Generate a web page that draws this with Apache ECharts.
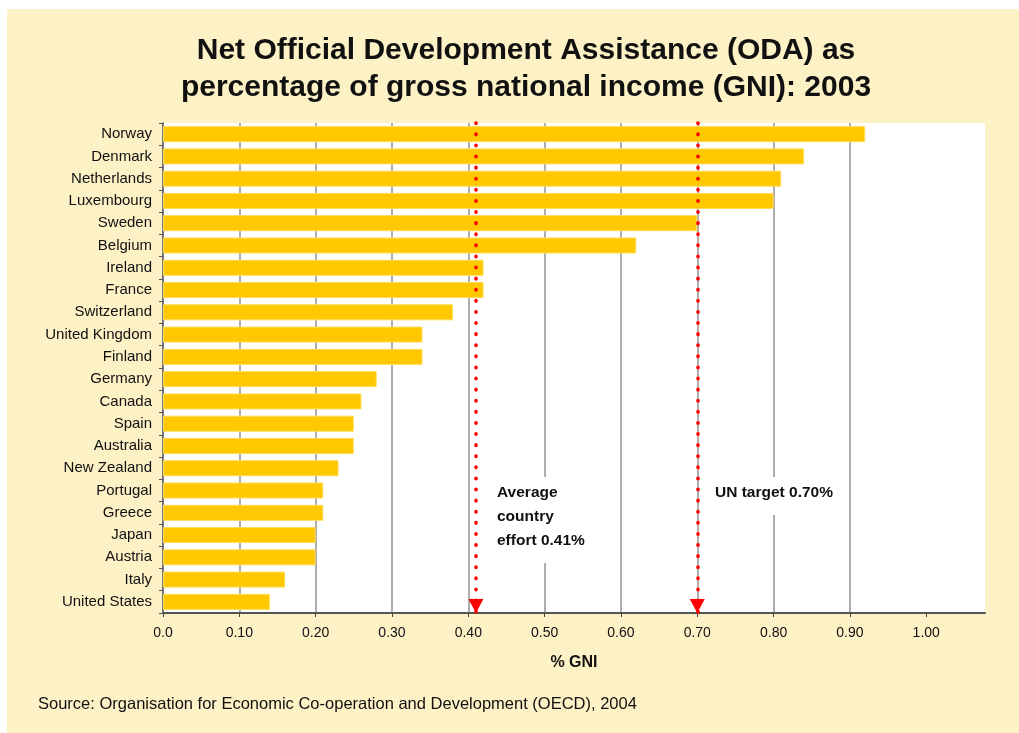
<!DOCTYPE html>
<html>
<head>
<meta charset="utf-8">
<title>Net ODA as % of GNI, 2003</title>
<script src="https://cdn.jsdelivr.net/npm/echarts@6/dist/echarts.min.js"></script>
<style>
  html, body { margin: 0; padding: 0; background: #fff; }
  #chart { width: 1019px; height: 733px; }
</style>
</head>
<body>
<div id="chart"></div>
<script>
// Donor countries, highest to lowest
const countries = [
  'Norway', 'Denmark', 'Netherlands', 'Luxembourg', 'Sweden', 'Belgium',
  'Ireland', 'France', 'Switzerland', 'United Kingdom', 'Finland', 'Germany',
  'Canada', 'Spain', 'Australia', 'New Zealand', 'Portugal', 'Greece',
  'Japan', 'Austria', 'Italy', 'United States'
];

// Net ODA as % of GNI, 2003
const odaShare = [
  0.92, 0.84, 0.81, 0.80, 0.70, 0.62,
  0.42, 0.42, 0.38, 0.34, 0.34, 0.28,
  0.26, 0.25, 0.25, 0.23, 0.21, 0.21,
  0.20, 0.20, 0.16, 0.14
];

// Reference lines
const averageEffort = 0.41;
const unTarget = 0.70;

// X-axis ticks and their labels
const tickValues = [0, 0.1, 0.2, 0.3, 0.4, 0.5, 0.6, 0.7, 0.8, 0.9, 1.0];
const tickLabels = ['0.0', '0.10', '0.20', '0.30', '0.40', '0.50', '0.60', '0.70', '0.80', '0.90', '1.00'];

const titleText = 'Net Official Development Assistance (ODA) as\npercentage of gross national income (GNI): 2003';
const sourceText = 'Source: Organisation for Economic Co-operation and Development (OECD), 2004';
const averageText = 'Average\ncountry\neffort 0.41%';
const targetText = 'UN target 0.70%';

const FONT = '"Liberation Sans", Arial, sans-serif';

const chart = echarts.init(document.getElementById('chart'), null, { renderer: 'canvas' });

chart.setOption({
  backgroundColor: '#ffffff',
  animation: false,
  textStyle: { fontFamily: FONT },
  title: {
    text: titleText,
    left: 521,
    textAlign: 'center',
    top: 27,
    textStyle: {
      fontFamily: FONT,
      fontSize: 30,
      fontWeight: 'bold',
      lineHeight: 37,
      color: '#111'
    }
  },
  graphic: [
    {
      type: 'rect',
      z: -100,
      silent: true,
      shape: { x: 7, y: 9, width: 1012, height: 724 },
      style: { fill: '#fdf1c6' }
    },
    {
      type: 'text',
      left: 38,
      top: 696,
      silent: true,
      style: {
        text: sourceText,
        fontFamily: FONT,
        fontSize: 16.5,
        fill: '#111'
      }
    },
    {
      type: 'text',
      left: 491,
      top: 477,
      z: 50,
      silent: true,
      style: {
        text: averageText,
        fontFamily: FONT,
        fontSize: 15.5,
        fontWeight: 'bold',
        lineHeight: 24,
        fill: '#111',
        backgroundColor: '#fff',
        padding: [4, 6, 10, 6]
      }
    },
    {
      type: 'text',
      left: 709,
      top: 477,
      z: 50,
      silent: true,
      style: {
        text: targetText,
        fontFamily: FONT,
        fontSize: 15.5,
        fontWeight: 'bold',
        lineHeight: 24,
        fill: '#111',
        backgroundColor: '#fff',
        padding: [4, 6, 10, 6]
      }
    }
  ],
  grid: {
    left: 163,
    right: 34,
    top: 123,
    bottom: 120,
    show: true,
    backgroundColor: '#ffffff',
    borderWidth: 0,
    containLabel: false
  },
  xAxis: {
    type: 'value',
    min: 0,
    max: 1.077,
    interval: 0.1,
    name: '% GNI',
    nameLocation: 'middle',
    nameGap: 42,
    nameTextStyle: { fontFamily: FONT, fontSize: 16, fontWeight: 'bold', color: '#111' },
    axisLine: { show: true, lineStyle: { color: '#555', width: 2 } },
    axisTick: { show: true, length: 4, lineStyle: { color: '#444' }, customValues: tickValues },
    axisLabel: {
      customValues: tickValues,
      margin: 13,
      fontFamily: FONT,
      fontSize: 14,
      color: '#111',
      formatter: function (v) {
        const i = tickValues.findIndex(function (t) { return Math.abs(t - v) < 1e-6; });
        return i >= 0 ? tickLabels[i] : '';
      }
    },
    splitLine: { show: true, showMaxLine: false, lineStyle: { color: '#9a9a9a', width: 1.6 } }
  },
  yAxis: {
    type: 'category',
    data: countries,
    inverse: true,
    axisLine: { show: true, lineStyle: { color: '#666', width: 1.5 } },
    axisTick: { show: true, length: 4, interval: 0, lineStyle: { color: '#555' } },
    axisLabel: {
      margin: 11,
      fontFamily: FONT,
      fontSize: 15,
      color: '#111',
      interval: 0
    },
    splitLine: { show: false }
  },
  series: [
    {
      type: 'bar',
      data: odaShare,
      barCategoryGap: '28%',
      itemStyle: { color: '#ffc800', borderColor: '#ffdc55', borderWidth: 1 },
      markLine: {
        silent: true,
        symbol: ['none', 'triangle'],
        symbolSize: [15, 14],
        symbolOffset: [[0, 0], [0, 7]],
        label: { show: false },
        lineStyle: { color: '#ff0000', width: 3.6, type: [0.5, 10.6], cap: 'round' },
        emphasis: { disabled: true },
        data: [
          { xAxis: averageEffort },
          { xAxis: unTarget }
        ]
      }
    }
  ]
});
</script>
</body>
</html>
